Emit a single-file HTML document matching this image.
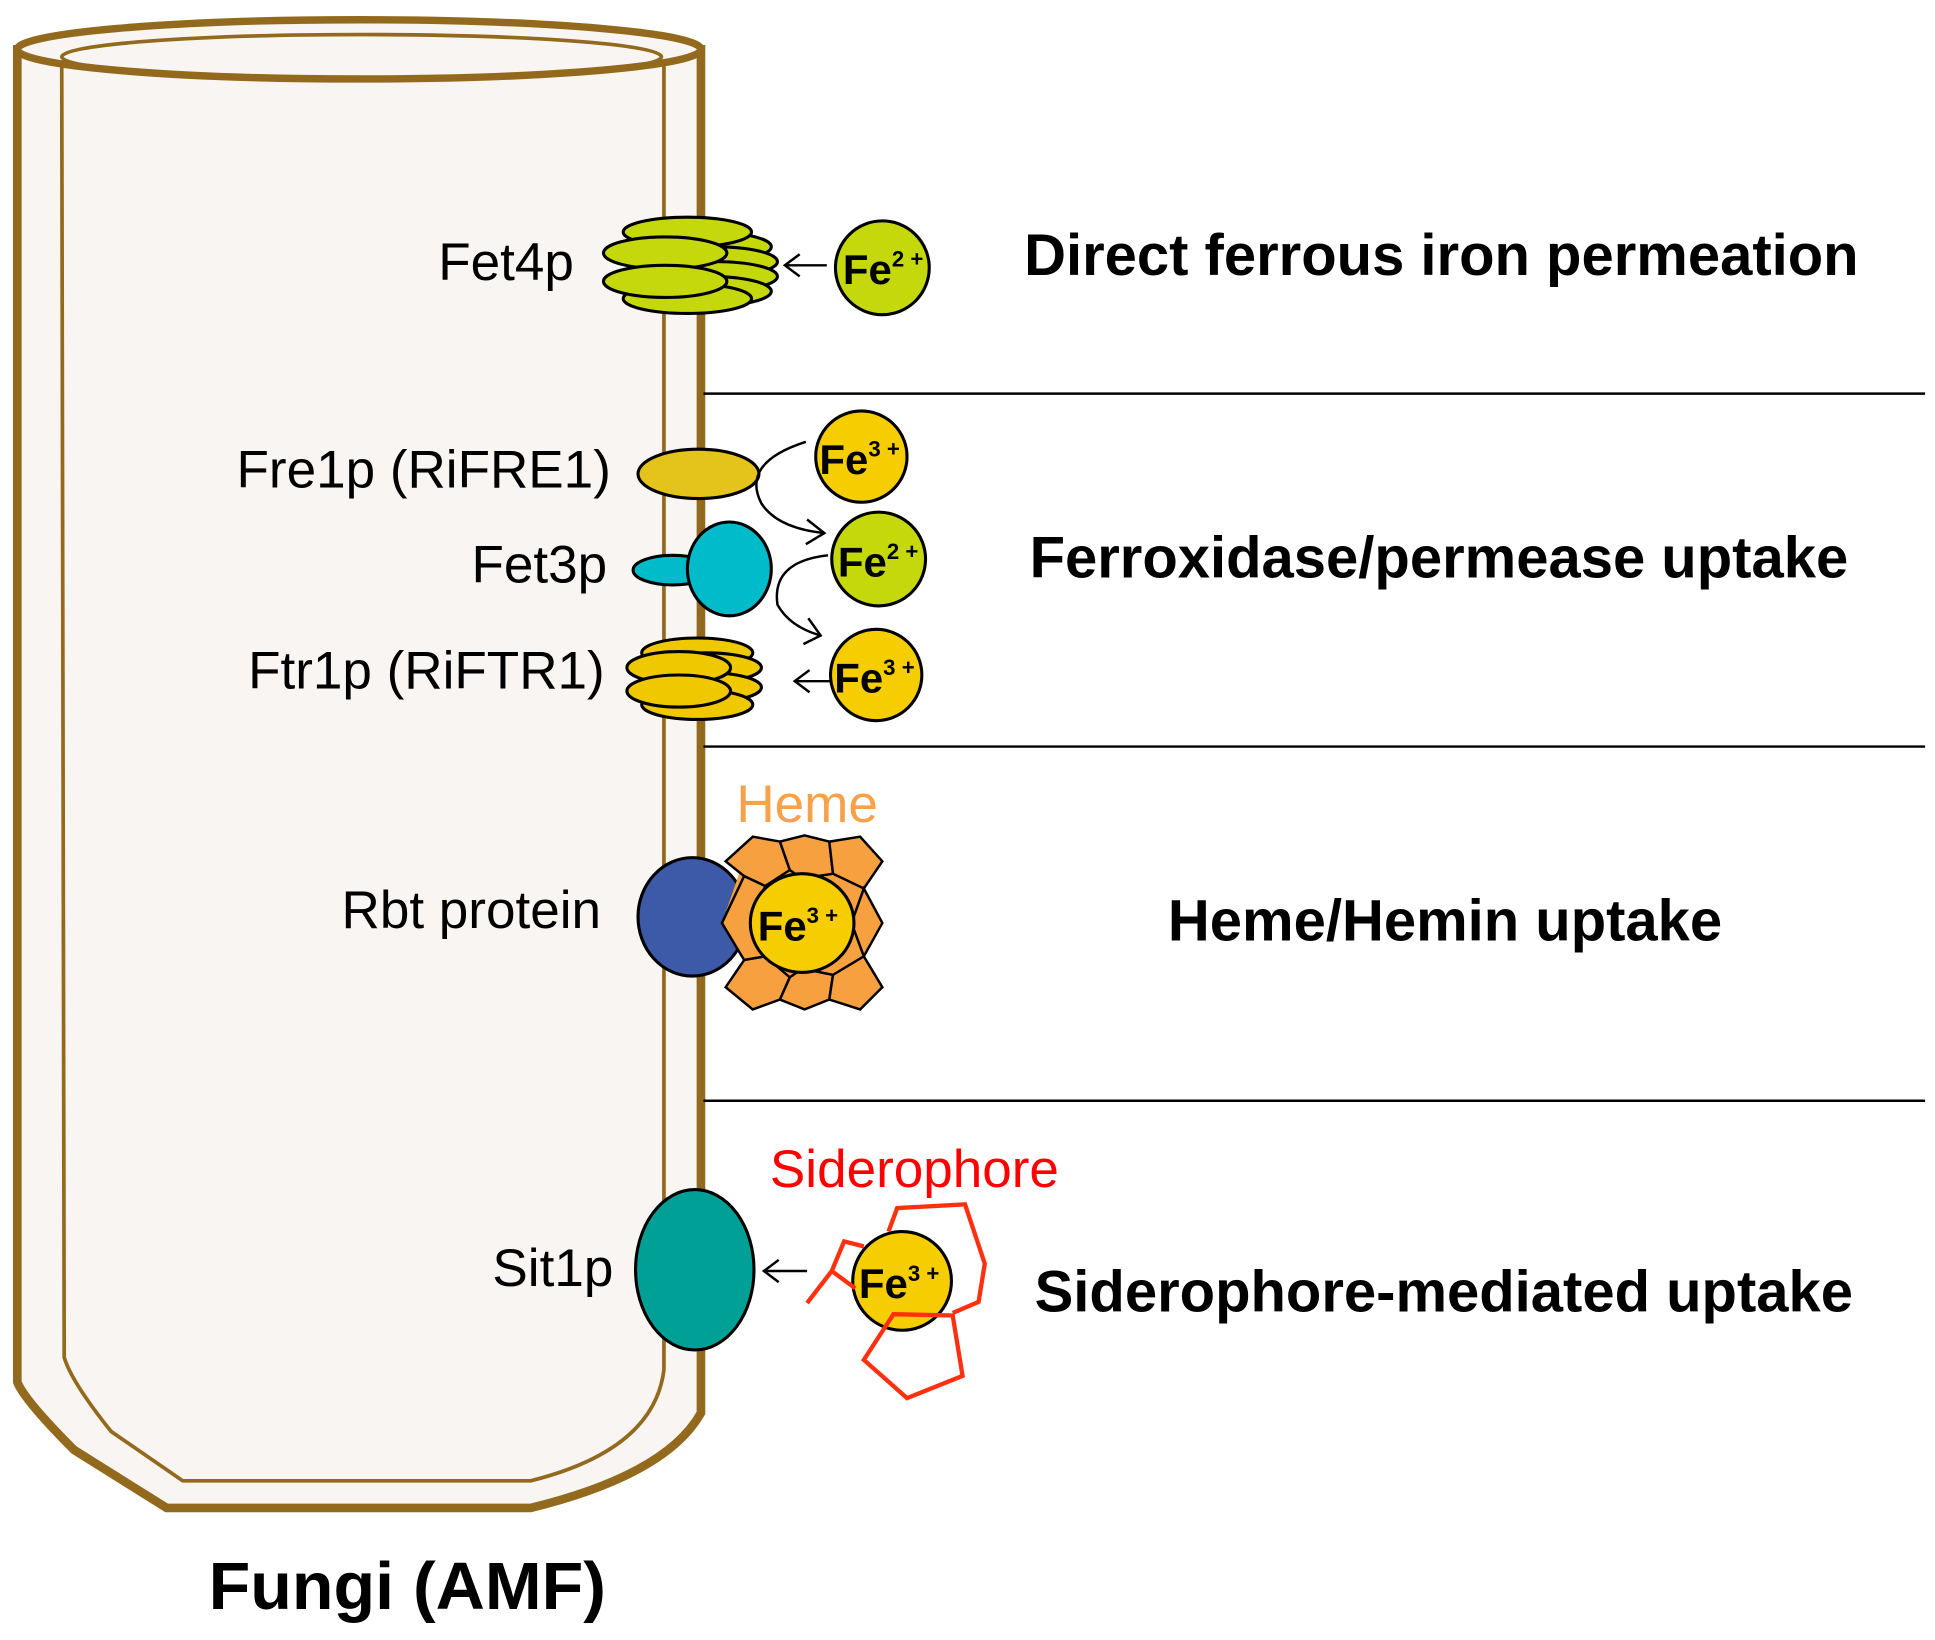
<!DOCTYPE html>
<html><head><meta charset="utf-8"><style>html,body{margin:0;padding:0;background:#fff}svg{display:block}</style></head>
<body>
<svg width="1935" height="1640" viewBox="0 0 1568 1329" xmlns="http://www.w3.org/2000/svg" font-family="Liberation Sans, Arial, sans-serif">
<!-- tube -->
<path d="M14,40 L14,1120 Q20,1135 60,1175 L135,1222 L430,1222 Q540,1195 568,1145 L568,40 Z" fill="#f8f5f2" stroke="#93691d" stroke-width="7"/>
<ellipse cx="291" cy="40" rx="277" ry="24" fill="#f8f5f2" stroke="#93691d" stroke-width="6"/>
<ellipse cx="293" cy="46" rx="243" ry="18" fill="none" stroke="#93691d" stroke-width="3"/>
<path d="M50,52 L52,1100 Q58,1120 90,1160 L148,1200 L430,1200 Q530,1175 538,1110 L538,52" fill="none" stroke="#93691d" stroke-width="3"/>
<!-- divider lines -->
<g stroke="#000" stroke-width="2"><line x1="570" y1="319" x2="1560" y2="319"/><line x1="570" y1="605" x2="1560" y2="605"/><line x1="570" y1="892" x2="1560" y2="892"/></g>
<!-- Fet4p -->
<g fill="#c5d80c" stroke="#000" stroke-width="2.5">
<ellipse cx="575" cy="200" rx="50" ry="12"/><ellipse cx="580" cy="212" rx="50" ry="12"/><ellipse cx="580" cy="224" rx="50" ry="12"/><ellipse cx="575" cy="236" rx="50" ry="12"/>
<ellipse cx="557" cy="188" rx="52" ry="12"/><ellipse cx="557" cy="242" rx="52" ry="12"/>
<ellipse cx="539" cy="205" rx="50" ry="13"/><ellipse cx="539" cy="228" rx="50" ry="13"/>
</g>
<g fill="none" stroke="#000" stroke-width="2"><line x1="670" y1="215" x2="636" y2="215"/><polyline points="648,206 636,215 648,224"/></g>
<circle cx="715" cy="217" r="38" fill="#c5d80c" stroke="#000" stroke-width="2.5"/>
<text x="683" y="230" font-size="34" font-weight="bold">Fe<tspan font-size="18" dy="-14">2 +</tspan></text>
<text x="465" y="227" font-size="43" text-anchor="end">Fet4p</text>
<text x="1168" y="223" font-size="47" font-weight="bold" text-anchor="middle">Direct ferrous iron permeation</text>
<!-- Fre1p -->
<ellipse cx="566" cy="384" rx="49" ry="20" fill="#e4c31a" stroke="#000" stroke-width="2.5"/>
<text x="495" y="395" font-size="43" text-anchor="end">Fre1p (RiFRE1)</text>
<ellipse cx="545" cy="462" rx="32" ry="12" fill="#00bccb" stroke="#000" stroke-width="2.5"/>
<ellipse cx="591" cy="461" rx="34" ry="38" fill="#00bccb" stroke="#000" stroke-width="2.5"/>
<text x="492" y="472" font-size="43" text-anchor="end">Fet3p</text>
<g fill="#f0c800" stroke="#000" stroke-width="2.5">
<ellipse cx="565" cy="529" rx="45" ry="12"/><ellipse cx="572" cy="541" rx="45" ry="12"/><ellipse cx="572" cy="557" rx="45" ry="12"/><ellipse cx="565" cy="571" rx="45" ry="12"/>
<ellipse cx="550" cy="541" rx="42" ry="13"/><ellipse cx="550" cy="560" rx="42" ry="13"/>
</g>
<text x="490" y="558" font-size="43" text-anchor="end">Ftr1p (RiFTR1)</text>
<g fill="none" stroke="#000" stroke-width="2">
<path d="M653,358 Q600,375 617,408 Q630,428 668,432"/><polyline points="654,421 668,432 653,441"/>
<path d="M671,450 Q625,455 630,490 Q640,508 665,515"/><polyline points="655,501 665,515 651,522"/>
<line x1="676" y1="552" x2="644" y2="552"/><polyline points="656,543 644,552 656,561"/>
</g>
<circle cx="698" cy="370" r="37" fill="#f5cd00" stroke="#000" stroke-width="2.5"/>
<text x="664" y="384" font-size="34" font-weight="bold">Fe<tspan font-size="18" dy="-14">3 +</tspan></text>
<circle cx="712" cy="453" r="38" fill="#c5d80c" stroke="#000" stroke-width="2.5"/>
<text x="679" y="467" font-size="34" font-weight="bold">Fe<tspan font-size="18" dy="-14">2 +</tspan></text>
<circle cx="710" cy="547" r="37" fill="#f5cd00" stroke="#000" stroke-width="2.5"/>
<text x="676" y="561" font-size="34" font-weight="bold">Fe<tspan font-size="18" dy="-14">3 +</tspan></text>
<text x="1166" y="468" font-size="47" font-weight="bold" text-anchor="middle">Ferroxidase/permease uptake</text>
<!-- Heme -->
<text x="654" y="666" font-size="43" fill="#f7a24a" text-anchor="middle">Heme</text>
<ellipse cx="561" cy="743" rx="44" ry="48" fill="#3d5aa8" stroke="#000" stroke-width="2.5"/>
<polygon points="600,705 620,718 640,705 675,708 700,720 715,748 700,775 675,790 640,792 620,775 603,778 585,748" fill="#f7a040"/>
<g fill="#f7a040" stroke="#000" stroke-width="2">
<polygon points="603,710 588,698 610,678 632,682 640,705 620,718"/>
<polygon points="632,682 652,677 672,682 675,708 650,712 640,705"/>
<polygon points="672,682 697,678 715,698 700,720 675,708"/>
<polygon points="620,718 603,710 585,748 603,778 620,775 610,748"/>
<polygon points="700,720 715,748 700,775 690,748"/>
<polygon points="603,778 588,800 610,818 632,810 640,792 620,775"/>
<polygon points="640,792 632,810 652,818 672,810 675,790 650,785"/>
<polygon points="675,790 672,810 697,818 715,800 700,775"/>
</g>
<ellipse cx="650" cy="748" rx="42" ry="40" fill="#f5cd00" stroke="#000" stroke-width="2.5"/>
<text x="614" y="762" font-size="34" font-weight="bold">Fe<tspan font-size="18" dy="-14">3 +</tspan></text>
<text x="487" y="752" font-size="43" text-anchor="end">Rbt protein</text>
<text x="1171" y="762" font-size="47" font-weight="bold" text-anchor="middle">Heme/Hemin uptake</text>
<!-- Siderophore -->
<text x="741" y="962" font-size="43" fill="#f00" text-anchor="middle">Siderophore</text>
<ellipse cx="563" cy="1029" rx="48" ry="65" fill="#00a096" stroke="#000" stroke-width="2.5"/>
<g fill="none" stroke="#000" stroke-width="2"><line x1="654" y1="1030" x2="619" y2="1030"/><polyline points="631,1021 619,1030 631,1039"/></g>
<text x="497" y="1042" font-size="43" text-anchor="end">Sit1p</text>
<ellipse cx="731" cy="1038" rx="40" ry="40" fill="#f5cd00" stroke="#000" stroke-width="2.5"/>
<text x="696" y="1052" font-size="34" font-weight="bold">Fe<tspan font-size="18" dy="-14">3 +</tspan></text>
<g fill="none" stroke="#ff3010" stroke-width="3.5">
<polyline points="720,998 727,979 782,976 798,1024 793,1055 772,1064"/>
<polygon points="724,1065 772,1066 780,1115 735,1133 700,1102"/>
<polyline points="654,1056 674,1030 684,1006 700,1010"/>
<polyline points="674,1030 693,1044"/>
</g>
<text x="1170" y="1063" font-size="47" font-weight="bold" text-anchor="middle">Siderophore-mediated uptake</text>
<text x="330" y="1304" font-size="54" font-weight="bold" text-anchor="middle" textLength="322" lengthAdjust="spacingAndGlyphs">Fungi (AMF)</text>
</svg>
</body></html>
